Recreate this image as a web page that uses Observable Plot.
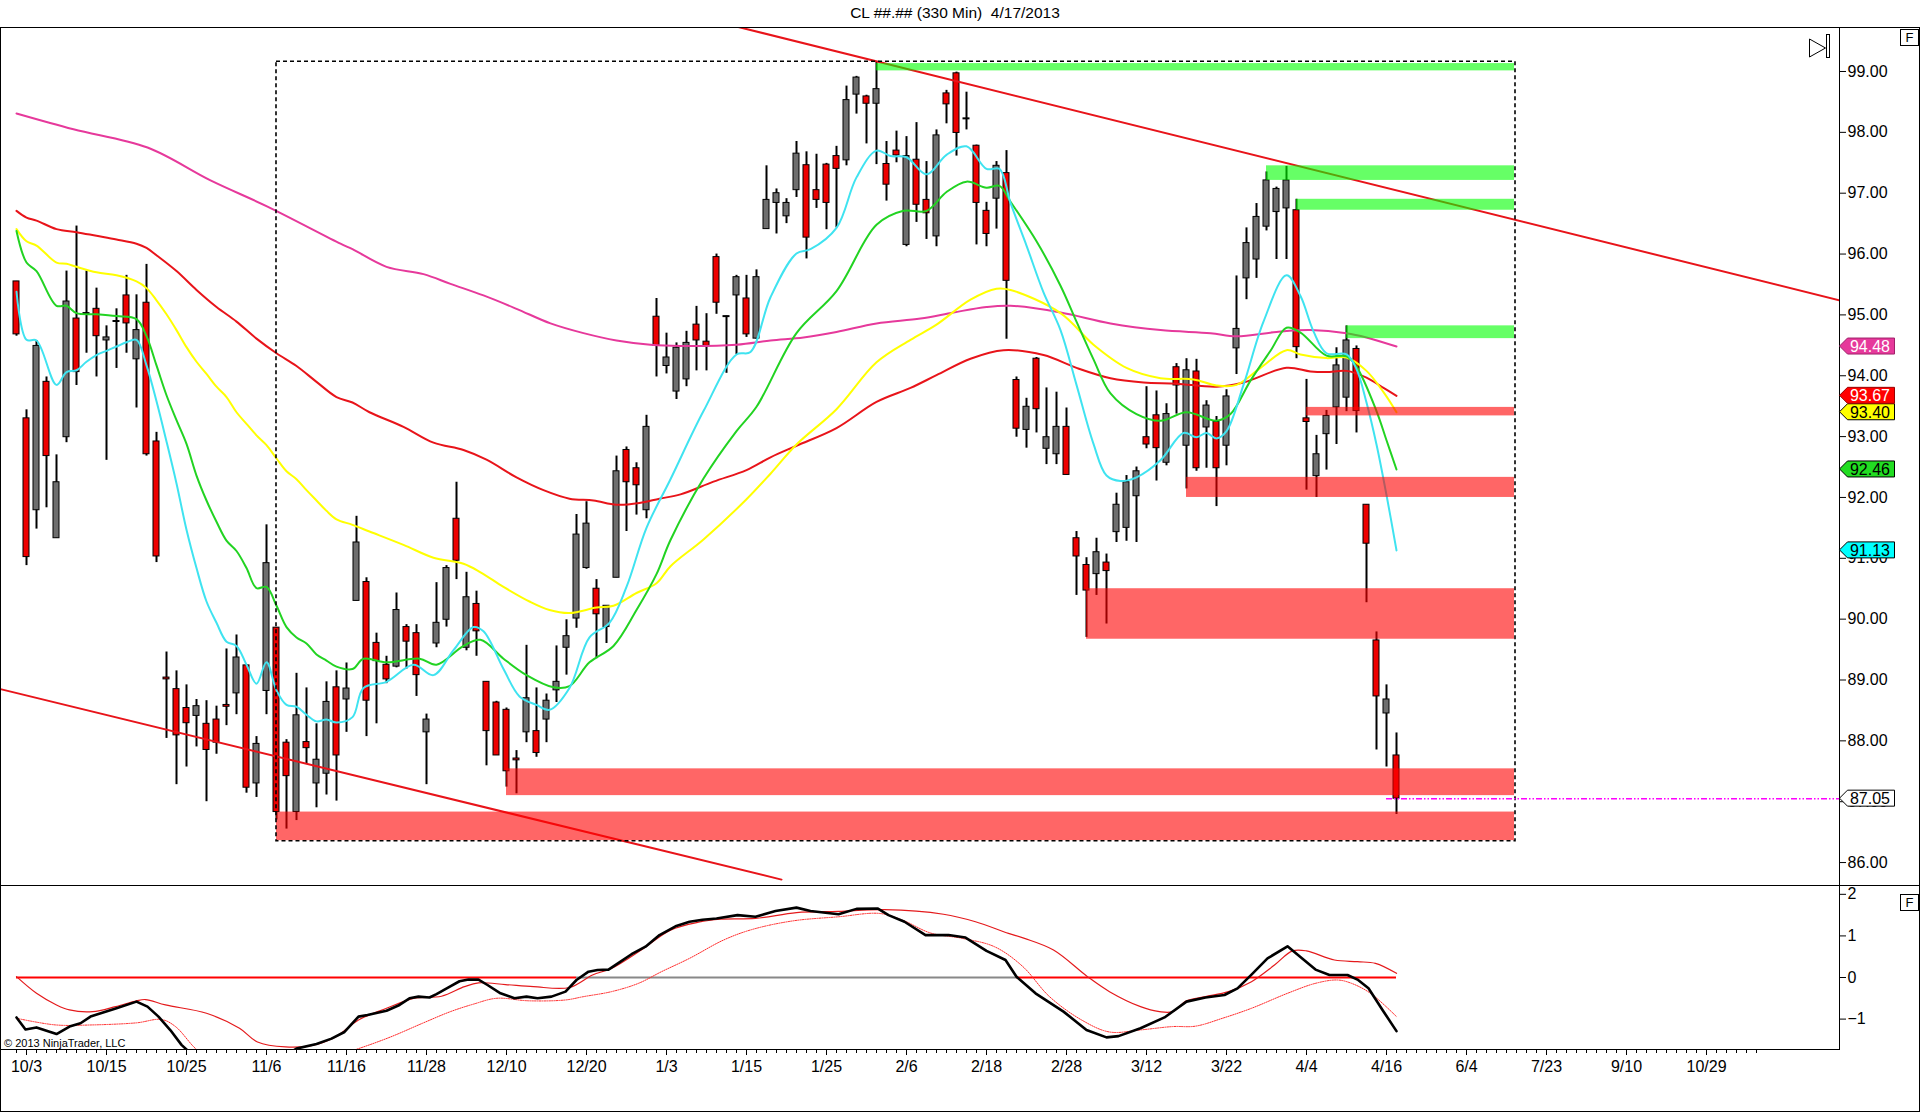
<!DOCTYPE html>
<html><head><meta charset="utf-8">
<script src="https://cdn.jsdelivr.net/npm/d3@7"></script>
<script src="https://cdn.jsdelivr.net/npm/@observablehq/plot@0.6"></script>
<style>
body{margin:0;background:#fff;}
#root{position:relative;width:1920px;height:1113px;overflow:hidden;font-family:'Liberation Sans',Arial,sans-serif;background:#fff;}
.abs{position:absolute;}
#title{left:0;top:4px;width:1910px;text-align:center;font-size:15.5px;white-space:pre;color:#000;}
#border{left:0;top:27px;width:1920px;height:1085px;box-sizing:border-box;border:1px solid #000;pointer-events:none;}
#sep{left:0;top:885px;width:1920px;height:1px;background:#000;}
.fbox{width:17px;height:15px;border:1px solid #000;font-size:13px;line-height:15px;text-align:center;background:#fff;}
#copy{left:4px;top:1037px;font-size:11px;color:#000;}
</style></head><body><div id="root">
<div id="title" class="abs">CL ##.## (330 Min)  4/17/2013</div>
</div>
<script>
// ---------- DATA ----------
const open = [95.55,93.30,91.79,93.90,91.33,92.99,94.94,95.03,95.10,94.58,
94.90,95.32,94.27,95.20,92.92,89.04,88.85,88.54,88.41,88.28,
88.35,88.59,88.78,89.24,87.30,88.82,89.86,87.97,86.83,87.98,
87.30,87.46,88.88,88.68,90.30,90.61,89.61,89.25,89.22,89.87,
89.77,88.14,89.60,89.99,91.65,89.53,90.25,88.97,88.63,88.51,
87.71,88.14,88.16,88.35,88.83,89.53,90.01,90.84,90.50,89.87,
90.68,92.78,92.48,91.79,94.97,94.16,93.74,93.94,94.84,94.56,
95.95,94.98,95.32,95.27,94.61,96.41,96.84,96.62,97.05,97.46,
97.05,97.47,97.61,97.54,98.62,98.59,98.47,97.48,97.70,96.15,
97.55,96.89,96.29,98.64,98.97,98.23,97.78,96.71,96.91,97.33,
93.93,93.11,94.28,92.80,92.71,93.16,91.33,90.89,90.74,90.93,
91.43,91.50,92.02,92.99,93.35,92.57,94.14,92.85,94.07,93.15,
93.24,92.85,94.45,95.60,95.91,96.45,96.69,96.75,96.72,93.30,
92.35,93.04,93.48,93.64,94.44,91.88,89.65,88.45,87.76];
const high = [95.55,93.44,94.58,93.98,92.70,95.72,96.46,95.72,95.44,94.82,
95.10,95.65,95.33,95.83,93.07,89.46,89.15,88.92,88.68,88.66,
88.57,89.51,89.74,89.25,88.07,91.55,89.86,88.02,89.11,88.87,
88.28,88.97,89.15,89.28,91.69,90.68,89.77,89.39,90.43,89.91,
89.91,88.44,90.60,90.88,92.25,90.77,90.46,88.97,88.65,88.54,
87.84,89.57,88.87,88.77,89.56,89.99,91.72,91.93,90.65,90.22,
92.68,92.83,92.57,93.35,95.27,94.70,94.54,94.73,95.14,95.02,
96.00,94.98,95.65,95.65,95.74,97.45,97.07,96.91,97.85,97.68,
97.64,97.49,97.77,98.76,98.92,98.61,99.15,97.85,98.02,97.93,
98.16,97.52,98.04,98.69,98.99,98.66,97.79,96.85,97.52,97.70,
93.98,93.63,94.30,93.80,93.73,93.47,91.44,91.01,91.33,91.07,
92.07,92.36,92.50,93.82,93.75,93.54,94.20,94.28,94.27,93.59,
93.33,93.77,95.64,96.43,96.83,97.35,97.10,97.44,96.90,93.94,
93.02,93.43,94.46,94.82,94.49,91.88,89.79,88.92,88.13];
const low = [94.65,90.88,91.48,91.83,91.33,92.90,93.84,94.37,93.98,92.61,
94.12,94.37,93.47,92.68,90.93,88.04,87.28,87.57,87.90,87.00,
87.78,88.25,88.43,87.14,87.07,88.43,86.70,86.55,86.69,87.62,
86.90,87.11,87.01,88.14,90.30,88.07,88.28,88.94,89.20,89.18,
88.73,87.28,89.53,89.87,90.65,89.48,89.39,87.59,87.76,87.24,
87.13,87.97,87.73,87.97,88.63,89.08,89.85,90.82,89.35,89.60,
90.68,91.44,91.71,91.65,93.98,94.03,93.61,93.82,94.08,94.08,
95.01,94.04,94.35,94.63,94.60,96.41,96.33,96.50,96.93,95.92,
96.75,96.40,96.43,97.45,98.30,97.81,97.47,96.87,97.50,96.12,
96.52,96.24,96.12,98.14,97.61,98.04,96.15,96.12,96.41,94.60,
92.99,92.81,93.06,92.54,92.54,92.37,90.39,89.70,90.39,89.92,
91.26,91.28,91.26,92.80,92.27,92.52,93.37,92.14,92.43,92.48,
91.85,92.52,94.02,95.25,95.60,96.38,95.91,95.91,94.28,92.12,
92.00,92.45,92.87,93.41,93.06,90.27,87.85,87.57,86.79];
const close = [94.68,91.02,94.49,92.68,92.25,95.22,94.06,95.03,94.65,94.63,
94.90,94.86,94.75,92.71,91.03,89.01,88.09,88.29,88.57,87.85,
87.97,88.56,89.37,87.23,87.95,90.92,86.83,87.42,88.42,87.88,
87.69,88.64,87.76,88.86,91.26,88.66,89.31,89.01,90.15,89.63,
89.08,88.35,89.94,90.84,90.96,90.36,89.80,88.16,87.76,87.50,
87.68,88.70,87.80,88.66,88.97,89.72,91.39,91.57,90.08,90.22,
92.43,92.25,92.20,93.16,94.49,94.30,94.46,94.54,94.58,94.49,
95.20,94.98,95.62,94.68,95.62,96.89,97.00,96.84,97.65,96.27,
96.89,96.84,97.40,98.53,98.90,98.47,98.71,97.14,97.62,97.61,
96.81,96.67,97.95,98.46,97.99,98.23,96.84,96.33,97.45,95.56,
93.13,93.49,93.45,92.99,93.16,92.37,91.03,90.47,91.10,90.79,
91.88,92.25,92.43,92.87,92.81,93.37,93.84,94.09,92.48,93.51,
92.48,93.66,94.77,96.18,96.61,97.21,97.07,97.21,94.47,93.24,
92.71,93.34,94.17,94.58,93.42,91.24,88.73,88.68,87.05];

// moving averages [bar, value]
const maCyan = [[0,95.38],[1,94.59],[2,94.58],[4,93.85],[5,94.06],[6,94.09],[7,94.23],[8,94.34],[9,94.41],[10,94.48],[11,94.55],[12,94.59],[13,94.17],[14,93.58],[15,92.92],[16,92.23],[17,91.47],[18,90.84],[19,90.29],[20,89.94],[21,89.63],[22,89.56],[23,89.25],[24,88.94],[25,89.29],[26,88.83],[27,88.59],[28,88.56],[29,88.43],[30,88.32],[31,88.35],[32,88.30],[33.6,88.39],[34.7,88.87],[37,88.97],[39.7,89.25],[41.7,89.08],[43.7,89.49],[45.7,89.87],[46.7,89.80],[48.7,89.18],[50.3,88.73],[52,88.59],[53.3,88.51],[55.3,88.87],[57.3,89.70],[59.3,89.94],[61,90.53],[63,91.5],[65.4,92.3],[68.7,93.42],[72,94.35],[73.4,94.39],[75.4,95.29],[78,96.01],[79.4,96.08],[82,96.43],[84,97.26],[86,97.70],[87.4,97.61],[89,97.59],[91,97.31],[93,97.63],[95,97.77],[97,97.40],[98.3,97.40],[99.4,96.84],[101,96.14],[102.7,95.37],[104.4,94.75],[106,93.85],[107.7,92.88],[109,92.36],[110.4,92.27],[112,92.33],[114.4,92.61],[116.7,93.06],[118,92.99],[119,93.06],[120,92.97],[121,93.09],[122.7,93.85],[124.7,94.89],[127,95.65],[128.4,95.31],[129.7,94.73],[131,94.37],[133,94.35],[134,94.11],[135,93.56],[136,92.87],[137,92.04],[138,91.13]];
const maGreen = [[0,96.38],[1,95.86],[2,95.72],[4,95.15],[5,95.15],[6,95.03],[8,95.01],[10,94.98],[12,94.93],[13,94.65],[14,94.17],[15,93.68],[16,93.27],[17,92.88],[18,92.36],[19,91.95],[20,91.60],[21,91.29],[22,91.12],[23,90.84],[24,90.51],[25,90.53],[26,90.22],[27,89.87],[28,89.70],[29,89.60],[30,89.42],[31,89.32],[32,89.22],[33.6,89.18],[34.7,89.35],[37,89.29],[40.3,89.35],[42,89.25],[44.7,89.56],[46.4,89.66],[48.7,89.35],[51,89.08],[53.7,88.88],[55.3,88.90],[57.3,89.29],[59.7,89.56],[62,90.15],[64,90.74],[65.4,91.3],[68.7,92.31],[72,93.09],[74,93.49],[78,94.70],[82,95.39],[86,96.48],[88.7,96.71],[91,96.71],[93,97.02],[95,97.19],[97,97.09],[98.3,97.12],[99.4,96.86],[102,96.21],[104.4,95.48],[106,94.89],[107.7,94.27],[109.4,93.71],[112,93.37],[114.4,93.26],[117,93.40],[120,93.26],[121.4,93.37],[123.4,93.92],[125.4,94.41],[127,94.79],[128.4,94.71],[131,94.33],[133,94.32],[134,94.15],[136,93.42],[137,92.94],[138,92.46]];
const maYellow = [[0,96.41],[1,96.21],[2,96.14],[4,95.86],[5,95.84],[6,95.79],[8,95.70],[10,95.65],[12,95.55],[13,95.44],[14,95.24],[15,95.01],[16,94.75],[17,94.47],[18,94.23],[19,94.03],[20,93.82],[21,93.65],[22,93.40],[23,93.21],[24,93.02],[25,92.86],[26,92.64],[27,92.43],[28,92.30],[29,92.12],[30,91.95],[31,91.78],[32,91.64],[33.6,91.55],[35.3,91.44],[38.7,91.22],[41.7,91.01],[44.7,90.91],[46.4,90.77],[48.7,90.53],[51.3,90.29],[53.3,90.15],[55.3,90.10],[58,90.19],[59.7,90.22],[62,90.43],[64,90.59],[65.4,90.87],[68.7,91.31],[73,91.97],[75.4,92.39],[78,92.87],[82,93.45],[86,94.22],[89.4,94.59],[92,94.84],[95.4,95.25],[98,95.43],[99.4,95.41],[104.4,95.03],[107.7,94.51],[111,94.13],[114.4,93.96],[117.7,93.94],[120,93.84],[122,93.85],[124.4,94.13],[127,94.42],[128.4,94.35],[131,94.29],[133,94.30],[135,94.08],[136.7,93.73],[138,93.40]];
const maRed = [[0,96.71],[1,96.60],[2,96.55],[4,96.41],[6,96.36],[8,96.30],[10,96.24],[12,96.17],[13,96.10],[14,95.98],[16,95.72],[18,95.41],[20,95.13],[22,94.89],[24,94.61],[26,94.37],[28,94.16],[30,93.90],[32,93.65],[33.6,93.56],[35.3,93.40],[38.7,93.16],[41.7,92.90],[44.7,92.78],[47,92.62],[50,92.33],[52.7,92.12],[55.3,91.98],[57.7,91.95],[60,91.88],[62.3,91.91],[64.3,91.98],[66.4,92.05],[69.7,92.26],[73,92.45],[75.4,92.66],[78,92.85],[82,93.14],[86,93.57],[89.4,93.80],[92,94.01],[95.4,94.28],[98.7,94.42],[102.7,94.34],[106,94.13],[109.4,93.96],[112.7,93.89],[116,93.87],[120,93.82],[122.7,93.89],[127,94.13],[129.4,94.07],[131,94.06],[133,94.08],[135,93.97],[136.7,93.80],[138,93.67]];
const maMagenta = [[0,98.31],[5.7,98.05],[13.1,97.75],[19.4,97.21],[25.1,96.78],[32.4,96.17],[33.6,96.08],[37,95.79],[40.7,95.67],[43.4,95.51],[46.7,95.32],[50,95.10],[53.4,94.86],[56.7,94.70],[60,94.58],[63.4,94.51],[66.4,94.49],[72,94.51],[75.4,94.58],[78.7,94.63],[82,94.72],[86,94.86],[90.4,94.94],[93.7,95.04],[97,95.13],[99.4,95.15],[104.4,95.04],[109.4,94.86],[114.4,94.75],[119.4,94.70],[122,94.65],[126,94.72],[129.4,94.75],[133,94.70],[135,94.63],[138,94.48]];

// trend lines [bar, price]
const upperTrend = [[70, 99.82], [182.3, 95.24]];
const lowerTrend = [[-1.6, 88.85], [76.5, 85.72]];

// zones
const zoneStart = [86, 125, 128, 133, 129, 117, 107, 49, 26];
const zoneLow   = [99.01, 97.21, 96.72, 94.61, 93.34, 92.00, 89.67, 87.10, 86.36];
const zoneHigh  = [99.13, 97.45, 96.90, 94.82, 93.48, 92.33, 90.50, 87.54, 86.83];
const zoneColor = ["#00ff00","#00ff00","#00ff00","#00ff00","#ff0000","#ff0000","#ff0000","#ff0000","#ff0000"];
const zoneEndBar = 149.8;

// dashed box
const boxBars = [26, 149.9];
const boxPrices = [86.35, 99.16];

// last price line
const lastPrice = 87.05;
const lastPriceStartBar = 137;

// price tags
const tagValues = [91.13, 92.46, 93.40, 93.67, 94.48, 87.05];
const tagLabels = ["91.13", "92.46", "93.40", "93.67", "94.48", "87.05"];
const tagFill = ["#00ffff", "#22dd22", "#ffff00", "#ff0000", "#e6399b", "#ffffff"];
const tagStroke = ["#000", "#000", "#000", "#900", "#a0206a", "#000"];
const tagTextColor = ["#000", "#000", "#000", "#fff", "#fff", "#000"];

// axis ticks
const priceTicks = [86, 87, 88, 89, 90, 91, 92, 93, 94, 95, 96, 97, 98, 99];
const oscTicks = [-1, 0, 1, 2];
const xLabels = ["10/3","10/15","10/25","11/6","11/16","11/28","12/10","12/20","1/3","1/15","1/25","2/6","2/18","2/28","3/12","3/22","4/4","4/16","6/4","7/23","9/10","10/29"];
const xLabelBars = [1,9,17,25,33,41,49,57,65,73,81,89,97,105,113,121,129,137,145,153,161,169];
const xMinorLastBar = 174;

// oscillator [bar, value]
const oscBlack = [[0,-0.96],[0.9,-1.25],[2,-1.20],[4,-1.36],[5.3,-1.18],[6.4,-1.10],[7.4,-0.94],[10,-0.74],[12,-0.58],[13.1,-0.70],[14.2,-0.94],[15.4,-1.27],[16.5,-1.62],[18,-1.95],[20,-2.15],[22,-2.25],[24,-2.2],[26,-2.0],[28,-1.71],[30,-1.60],[31.5,-1.47],[32.8,-1.31],[34.2,-0.94],[35.1,-0.90],[37,-0.80],[38.3,-0.66],[39.3,-0.50],[40.2,-0.46],[41.3,-0.48],[42,-0.40],[43.2,-0.24],[44.3,-0.09],[45.2,-0.05],[46.2,-0.05],[47.1,-0.18],[48.4,-0.38],[49.8,-0.50],[51,-0.46],[52.1,-0.50],[53.5,-0.46],[54.9,-0.34],[56,-0.06],[57.2,0.14],[58.1,0.18],[59.2,0.19],[60.4,0.38],[61.5,0.56],[62.9,0.74],[64.3,1.02],[65.9,1.23],[67.3,1.34],[68.6,1.39],[70,1.42],[72.1,1.50],[73.9,1.46],[75.9,1.60],[78,1.68],[79.4,1.60],[82.2,1.52],[84,1.65],[86.1,1.66],[87.2,1.50],[88.8,1.34],[90.9,1.02],[93.2,1.02],[94.9,0.96],[97,0.64],[98.9,0.42],[100,0.02],[101.9,-0.38],[104.7,-0.82],[107,-1.26],[109,-1.44],[110.2,-1.41],[112.4,-1.22],[114.8,-0.96],[117,-0.58],[118.9,-0.48],[120.8,-0.42],[122.1,-0.26],[123.5,0.07],[125.1,0.46],[127.1,0.75],[128.3,0.51],[129.9,0.19],[131.3,0.06],[133.1,0.06],[134.1,-0.05],[135.2,-0.26],[136.6,-0.78],[138,-1.29]];
const oscRed = [[0,0.02],[2,-0.38],[4,-0.66],[5.3,-0.78],[7.6,-0.82],[9.9,-0.70],[12,-0.56],[12.9,-0.53],[14.9,-0.66],[19,-0.86],[22.3,-1.22],[24.1,-1.55],[26.9,-1.67],[29.6,-1.63],[31.9,-1.43],[34.2,-1.02],[37,-0.74],[39.7,-0.50],[42.5,-0.45],[44.8,-0.22],[46.2,-0.13],[48.9,-0.17],[51.7,-0.22],[55.3,-0.24],[57.6,0.06],[59.5,0.22],[62.7,0.70],[65.4,1.14],[68.2,1.33],[70.4,1.40],[73.9,1.42],[78,1.56],[82.2,1.59],[86.8,1.63],[92.7,1.52],[95.9,1.34],[99.2,1.06],[100.8,0.94],[103.7,0.66],[107.1,0.02],[109.3,-0.34],[112.4,-0.70],[114.3,-0.82],[115.6,-0.82],[117,-0.56],[118.9,-0.46],[121.2,-0.34],[123.5,-0.10],[125.8,0.30],[127.6,0.64],[129,0.64],[131.8,0.42],[134.1,0.38],[135.9,0.34],[138,0.10]];
const oscDotted = [[0,-0.98],[3.9,-1.14],[7.6,-1.14],[12,-1.09],[14.5,-1.01],[15.9,-1.18],[18.1,-1.75],[20,-2.0],[24,-2.2],[28,-2.15],[31,-1.95],[34.2,-1.71],[37.4,-1.43],[40.6,-1.10],[43.4,-0.82],[45.7,-0.64],[48,-0.50],[51.2,-0.56],[54.9,-0.54],[56.7,-0.46],[59.5,-0.34],[62.2,-0.14],[64.5,0.14],[67.3,0.46],[70.7,0.90],[73.5,1.15],[77.6,1.36],[82.2,1.46],[86.3,1.54],[88.6,1.38],[91.4,1.07],[94.6,0.94],[97.8,0.74],[100.6,0.27],[103.3,-0.46],[106.5,-1.02],[109.3,-1.31],[112.4,-1.26],[115.6,-1.18],[117.9,-1.17],[120.6,-0.98],[123.5,-0.74],[127.1,-0.38],[129.9,-0.14],[132.1,-0.06],[133.5,-0.14],[135.4,-0.38],[138,-0.94]];
const zeroSegStart = [0, 56, 100];
const zeroSegEnd = [56, 100, 138];
const zeroSegColor = ["#ff0000", "#888888", "#ff0000"];

// ---------- BUILD ----------
const root = document.getElementById("root");
const xDomain = [-1.6, 182.3];
const fontFam = "'Liberation Sans', Arial, sans-serif";

const bars = open.map((o, i) => ({i, o, h: high[i], l: low[i], c: close[i]}));
const bodies = bars.filter(d => d.o !== d.c);
const dojis = bars.filter(d => d.o === d.c);
const zones = zoneStart.map((s, k) => ({s, e: zoneEndBar, lo: zoneLow[k], hi: zoneHigh[k], color: zoneColor[k]}));
const box = [{x1: boxBars[0], x2: boxBars[1], y1: boxPrices[0], y2: boxPrices[1]}];
const P = d => d[0], V = d => d[1];

const main = Plot.plot({
  width: 1920, height: 858,
  marginTop: 0, marginBottom: 0, marginLeft: 0, marginRight: 81,
  x: {domain: xDomain, axis: null},
  y: {domain: [85.623, 99.723], axis: null},
  color: {type: "identity"},
  style: {fontFamily: fontFam, fontSize: "16px", color: "#000", background: "transparent", overflow: "visible"},
  marks: [
    Plot.ruleX(bars, {x: "i", y1: "l", y2: "h", stroke: "#000", strokeWidth: 2}),
    Plot.rect(bodies, {x1: d => d.i - 0.3, x2: d => d.i + 0.3, y1: "o", y2: "c",
      fill: d => d.c > d.o ? "#6e6e6e" : "#ee0000", stroke: "#000", strokeWidth: 1}),
    Plot.ruleY(dojis, {y: "o", x1: d => d.i - 0.35, x2: d => d.i + 0.35, stroke: "#000", strokeWidth: 2}),
    Plot.line(upperTrend, {x: P, y: V, stroke: "#e8141a", strokeWidth: 2, clip: true}),
    Plot.line(lowerTrend, {x: P, y: V, stroke: "#e8141a", strokeWidth: 2, clip: true}),
    Plot.line(maMagenta, {x: P, y: V, stroke: "#e6399b", strokeWidth: 2, curve: "catmull-rom", clip: true}),
    Plot.line(maRed, {x: P, y: V, stroke: "#e8141a", strokeWidth: 2, curve: "catmull-rom", clip: true}),
    Plot.line(maYellow, {x: P, y: V, stroke: "#ffff00", strokeWidth: 2, curve: "catmull-rom", clip: true}),
    Plot.line(maGreen, {x: P, y: V, stroke: "#22d322", strokeWidth: 2, curve: "catmull-rom", clip: true}),
    Plot.line(maCyan, {x: P, y: V, stroke: "#3fe3f0", strokeWidth: 2, curve: "catmull-rom", clip: true}),
    Plot.rect(zones, {x1: "s", x2: "e", y1: "lo", y2: "hi", fill: "color", fillOpacity: 0.6}),
    Plot.rect(box, {x1: "x1", x2: "x2", y1: "y1", y2: "y2", fill: "none", stroke: "#000", strokeWidth: 1.6, strokeDasharray: "4,3"}),
    Plot.ruleY([lastPrice], {x1: lastPriceStartBar, x2: xDomain[1], stroke: "#ff00ff", strokeWidth: 1.5, strokeDasharray: "6,2,1.5,2,1.5,2"}),
    Plot.axisY(priceTicks, {anchor: "right", tickSize: 6, tickPadding: 2, tickFormat: d => d.toFixed(2), fontSize: 16}),
    Plot.frame({stroke: "#000", strokeWidth: 1})
  ]
});
main.style.position = "absolute"; main.style.left = "0px"; main.style.top = "27px";
root.appendChild(main);

// price tags drawn from the y scale
const ys = main.scale("y");
const tg = d3.select(main).append("g");
tagValues.forEach((v, k) => {
  const y = ys.apply(v);
  tg.append("polygon")
    .attr("points", `1839.5,${y} 1847.5,${y - 8} 1894.5,${y - 8} 1894.5,${y + 8} 1847.5,${y + 8}`)
    .attr("fill", tagFill[k]).attr("stroke", tagStroke[k]).attr("stroke-width", 1);
  tg.append("text").attr("x", 1870).attr("y", y).attr("dy", "0.36em")
    .attr("text-anchor", "middle").attr("font-size", 16).attr("fill", tagTextColor[k])
    .text(tagLabels[k]);
});

const zeroSegs = zeroSegStart.map((s, k) => ({s, e: zeroSegEnd[k], color: zeroSegColor[k]}));
const labelOf = new Map(xLabelBars.map((b, k) => [b, xLabels[k]]));

const osc = Plot.plot({
  width: 1920, height: 228,
  marginTop: 0, marginBottom: 64, marginLeft: 0, marginRight: 81,
  x: {domain: xDomain, axis: null},
  y: {domain: [-1.731, 2.212], axis: null},
  color: {type: "identity"},
  style: {fontFamily: fontFam, fontSize: "16px", color: "#000", background: "transparent", overflow: "visible"},
  marks: [
    Plot.ruleY(zeroSegs, {y: 0, x1: "s", x2: "e", stroke: "color", strokeWidth: 2.2}),
    Plot.line(oscDotted, {x: P, y: V, stroke: "#ff2a2a", strokeWidth: 1, strokeDasharray: "1.2,1.2", curve: "catmull-rom", clip: true}),
    Plot.line(oscRed, {x: P, y: V, stroke: "#e41a1c", strokeWidth: 1.2, curve: "catmull-rom", clip: true}),
    Plot.line(oscBlack, {x: P, y: V, stroke: "#000", strokeWidth: 2.6, clip: true}),
    Plot.axisY(oscTicks, {anchor: "right", tickSize: 6, tickPadding: 2, fontSize: 16}),
    Plot.axisX(d3.range(0, xMinorLastBar + 1), {anchor: "bottom", tickSize: 4, tickFormat: () => ""}),
    Plot.axisX(xLabelBars, {anchor: "bottom", tickSize: 6, tickPadding: 5, tickFormat: d => labelOf.get(d), fontSize: 16}),
    Plot.frame({stroke: "#000", strokeWidth: 1})
  ]
});
osc.style.position = "absolute"; osc.style.left = "0px"; osc.style.top = "885px";
root.appendChild(osc);

// decorations
root.insertAdjacentHTML("beforeend", `
<div id="border" class="abs"></div>
<div id="sep" class="abs"></div>
<div class="abs fbox" style="left:1900px;top:29px;">F</div>
<div class="abs fbox" style="left:1900px;top:894px;">F</div>
<div id="copy" class="abs">© 2013 NinjaTrader, LLC</div>
<svg class="abs" style="left:1800px;top:30px;" width="40" height="32">
  <polygon points="9.5,9 25.5,18 9.5,27" fill="none" stroke="#000" stroke-width="1"/>
  <rect x="26.5" y="4.5" width="3" height="23" fill="none" stroke="#000" stroke-width="1"/>
</svg>`);
</script></body></html>
